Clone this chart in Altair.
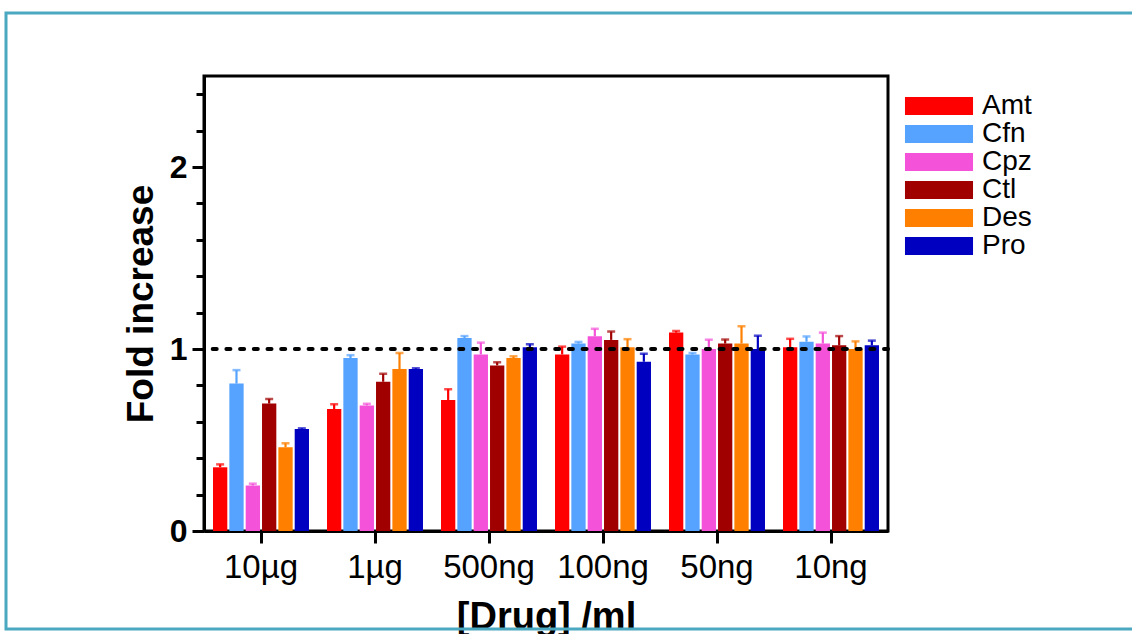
import altair as alt
import pandas as pd

# Categories
doses = ["10µg", "1µg", "500ng", "100ng", "50ng", "10ng"]
drugs = ["Amt", "Cfn", "Cpz", "Ctl", "Des", "Pro"]
drug_colors = ["#ff0000", "#56a2ff", "#f452d9", "#a00000", "#ff8000", "#0000c0"]

# Mean fold increase per drug, one value per dose (order of `doses`)
amt = [0.35, 0.67, 0.72, 0.97, 1.09, 1.01]
cfn = [0.81, 0.95, 1.06, 1.03, 0.97, 1.04]
cpz = [0.25, 0.69, 0.97, 1.07, 1.00, 1.03]
ctl = [0.70, 0.82, 0.91, 1.05, 1.03, 1.02]
des = [0.46, 0.89, 0.95, 1.01, 1.03, 1.00]
pro = [0.56, 0.89, 1.01, 0.93, 1.00, 1.02]

# Upper error (SEM) per drug and dose
amt_err = [0.016, 0.026, 0.059, 0.043, 0.009, 0.046]
cfn_err = [0.074, 0.016, 0.011, 0.009, 0.008, 0.029]
cpz_err = [0.010, 0.009, 0.065, 0.041, 0.051, 0.060]
ctl_err = [0.025, 0.044, 0.017, 0.046, 0.022, 0.051]
des_err = [0.022, 0.088, 0.010, 0.044, 0.095, 0.042]
pro_err = [0.004, 0.004, 0.016, 0.044, 0.073, 0.026]

# Y-axis tick positions (minor every 0.2, labelled at integers)
y_ticks = [0, 0.2, 0.4, 0.6, 0.8, 1, 1.2, 1.4, 1.6, 1.8, 2, 2.2, 2.4]
baseline_level = [1]

means = [amt, cfn, cpz, ctl, des, pro]
errs = [amt_err, cfn_err, cpz_err, ctl_err, des_err, pro_err]
rows = []
for drug, m, e in zip(drugs, means, errs):
    for dose, v, s in zip(doses, m, e):
        rows.append({"dose": dose, "drug": drug, "fold": v, "upper": v + s})
df = pd.DataFrame(rows)

FONT = "Liberation Sans"
is_int = "abs(datum.value - round(datum.value)) < 0.001"

x_scale = alt.Scale(paddingInner=0.158, paddingOuter=0.079)
x_axis = alt.Axis(
    title="[Drug] /ml",
    labelAngle=0,
    labelFont=FONT,
    labelFontSize=33,
    labelColor="black",
    labelPadding=8,
    tickSize=12,
    tickWidth=3,
    tickColor="black",
    domainColor="black",
    domainWidth=3,
    titleFont=FONT,
    titleFontSize=38,
    titleFontWeight="bold",
    titleColor="black",
    titleX=342,
    titleY=97,
    titleBaseline="alphabetic",
    titleAlign="center",
)
y_scale = alt.Scale(domain=[0, 2.5], nice=False)
y_axis = alt.Axis(
    title="Fold increase",
    values=y_ticks,
    labelExpr=f"{is_int} ? format(datum.value, 'd') : ''",
    labelFont=FONT,
    labelFontSize=32,
    labelFontWeight="bold",
    labelColor="black",
    labelPadding=5,
    tickSize={"condition": {"test": is_int, "value": 12}, "value": 8},
    tickWidth=3,
    tickColor="black",
    domainColor="black",
    domainWidth=3,
    grid=False,
    titleFont=FONT,
    titleFontSize=37,
    titleFontWeight="bold",
    titleColor="black",
    titleX=-52,
    titleY=227.5,
    titleAngle=270,
    titleBaseline="alphabetic",
    titleAlign="center",
)

x_enc = alt.X("dose:N", sort=doses, scale=x_scale, axis=x_axis)
xoff = alt.XOffset("drug:N", sort=drugs,
                   scale=alt.Scale(paddingInner=0.125, paddingOuter=0))
color_scale = alt.Scale(domain=drugs, range=drug_colors)

bars = alt.Chart(df).mark_bar(opacity=1).encode(
    x=x_enc,
    xOffset=xoff,
    y=alt.Y("fold:Q", scale=y_scale, axis=y_axis),
    color=alt.Color(
        "drug:N",
        sort=drugs,
        scale=color_scale,
        legend=alt.Legend(
            title=None,
            orient="none",
            legendX=701,
            legendY=16,
            symbolType="M-3.78,-1H3.78V1H-3.78Z",
            symbolSize=324,
            symbolStrokeWidth=0,
            symbolOpacity=1,
            symbolOffset=20,
            labelOffset=29,
            labelFont=FONT,
            labelFontSize=28,
            labelColor="black",
            rowPadding=0,
        ),
    ),
)

err_lines = alt.Chart(df).mark_rule(strokeWidth=2.2).encode(
    x=x_enc,
    xOffset=xoff,
    y=alt.Y("fold:Q", scale=y_scale, axis=y_axis),
    y2="upper:Q",
    color=alt.Color("drug:N", scale=color_scale, legend=None),
)

err_caps = alt.Chart(df).mark_tick(size=8, thickness=2.5).encode(
    x=x_enc,
    xOffset=xoff,
    y=alt.Y("upper:Q", scale=y_scale, axis=y_axis),
    color=alt.Color("drug:N", scale=color_scale, legend=None),
)

ref_line = alt.Chart(pd.DataFrame({"level": baseline_level})).mark_rule(
    color="black", strokeWidth=4, strokeDash=[4, 9.7], strokeCap="round"
).encode(y=alt.Y("level:Q", scale=y_scale, axis=y_axis))

page_frame = alt.Chart(pd.DataFrame({"k": [0]})).mark_rect(
    fillOpacity=0, stroke="#4aa8c0", strokeWidth=3
).encode(
    x=alt.value(-198), x2=alt.value(940), y=alt.value(-63), y2=alt.value(553)
)

chart = (
    alt.layer(bars, err_lines, err_caps, ref_line, page_frame)
    .properties(
        width=684,
        height=455,
        padding={"left": 204, "top": 76, "right": 244, "bottom": 103},
        autosize=alt.AutoSizeParams(type="none"),
        background="white",
    )
    .configure_view(stroke="black", strokeWidth=3)
)

chart.save("out.html", embed_options={"renderer": "svg", "actions": False})
